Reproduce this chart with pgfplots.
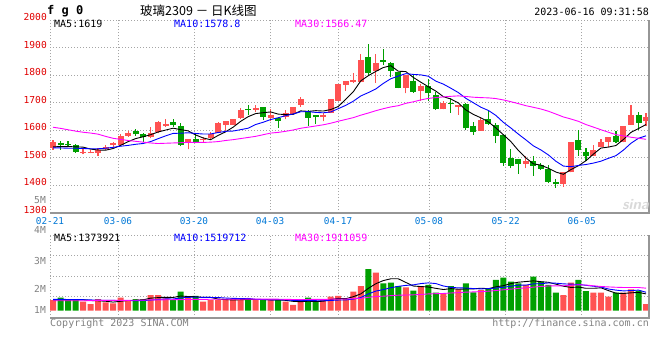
\documentclass[border=0pt]{standalone}
\usepackage{pgfplots}
\usepackage{pgfplotstable}
\pgfplotsset{compat=1.18}
\usepackage{fontspec}
\setmonofont{DejaVu Sans Mono}
\newfontfamily\cjk{Noto Sans CJK SC}
\definecolor{candleR}{RGB}{255,82,82}
\definecolor{candleG}{RGB}{0,160,0}
\definecolor{datecol}{RGB}{0,120,215}
\definecolor{pricecol}{RGB}{225,0,0}
\definecolor{txtgray}{RGB}{130,130,130}
\definecolor{gridgray}{RGB}{165,165,165}
\definecolor{bordergray}{RGB}{150,150,150}
\definecolor{maBlue}{RGB}{0,0,255}
\definecolor{maMag}{RGB}{255,0,255}
\newcommand\mono[1]{\ttfamily\fontsize{#1}{#1}\selectfont}

\pgfplotstableread{
i o h l c
0 1535 1565 1529 1559
4 1519 1531 1513 1523
5 1519 1529 1517 1523
6 1519 1535 1507 1529
7 1531 1547 1529 1541
8 1545 1558 1541 1553
9 1547 1587 1545 1581
10 1580 1598 1577 1589
13 1574 1611 1571 1591
14 1592 1633 1589 1630
15 1616 1641 1613 1624
18 1553 1570 1531 1569
20 1563 1577 1556 1569
21 1571 1593 1569 1587
22 1589 1629 1589 1626
23 1619 1634 1595 1634
24 1620 1641 1619 1641
25 1645 1680 1641 1674
27 1675 1692 1666 1682
29 1646 1679 1632 1655
31 1648 1674 1640 1664
32 1659 1686 1659 1686
33 1692 1719 1686 1713
36 1648 1662 1632 1657
37 1663 1714 1662 1713
38 1708 1768 1708 1768
39 1766 1777 1744 1777
40 1775 1807 1771 1783
41 1774 1876 1774 1855
43 1815 1876 1773 1845
47 1755 1801 1734 1801
49 1744 1768 1708 1761
52 1676 1708 1676 1700
54 1684 1690 1656 1690
57 1598 1647 1598 1638
63 1478 1507 1463 1489
68 1406 1449 1396 1449
69 1448 1557 1447 1557
72 1507 1548 1507 1529
73 1539 1570 1539 1558
74 1558 1575 1540 1575
76 1556 1616 1556 1616
77 1620 1690 1620 1656
79 1635 1661 1615 1647
}\upT

\pgfplotstableread{
i o h l c
1 1555 1561 1529 1545
2 1552 1561 1541 1545
3 1547 1552 1519 1523
11 1598 1605 1581 1585
12 1587 1589 1558 1574
16 1631 1641 1613 1619
17 1616 1626 1543 1548
19 1569 1586 1553 1556
26 1677 1690 1654 1672
28 1686 1686 1639 1650
30 1644 1650 1610 1634
34 1670 1674 1616 1646
35 1655 1655 1623 1647
42 1867 1913 1801 1807
44 1855 1895 1837 1848
45 1845 1848 1795 1816
46 1813 1813 1752 1755
48 1780 1801 1737 1739
50 1761 1785 1708 1734
51 1728 1740 1674 1676
53 1699 1716 1664 1696
55 1694 1698 1601 1607
56 1614 1629 1583 1595
58 1641 1674 1620 1623
59 1620 1626 1553 1580
60 1583 1583 1471 1483
61 1501 1531 1463 1471
62 1495 1495 1442 1477
64 1487 1505 1435 1471
65 1475 1481 1457 1460
66 1460 1475 1408 1414
67 1411 1423 1392 1407
70 1565 1601 1507 1529
71 1522 1535 1490 1505
75 1580 1597 1553 1557
78 1656 1666 1601 1628
}\dnT

\pgfplotstableread{
i v
0 0.99
4 0.83
5 0.61
6 1.08
7 0.77
8 0.68
9 1.21
10 0.99
13 1.46
14 1.46
15 1.15
18 1.21
20 0.83
21 0.99
22 0.99
23 0.99
24 1.15
25 0.99
27 0.99
29 0.99
31 0.83
32 0.52
33 0.83
36 0.99
37 1.30
38 1.37
39 1.08
40 1.77
41 2.31
43 3.57
47 2.19
49 2.31
52 1.62
54 2.00
57 1.93
63 2.41
68 1.46
69 2.62
72 1.68
73 1.68
74 1.30
76 1.68
77 2.00
79 0.61
}\volUp

\pgfplotstableread{
i v
1 1.21
2 0.99
3 1.08
11 1.08
12 1.08
16 0.99
17 1.78
19 1.37
26 1.08
28 0.99
30 0.99
34 1.21
35 0.83
42 3.90
44 2.56
45 2.62
46 2.31
48 1.87
50 2.41
51 1.68
53 2.31
55 2.56
56 1.71
58 2.09
59 2.88
60 3.10
61 2.72
62 2.56
64 3.19
65 2.72
66 2.41
67 1.68
70 2.88
71 1.84
75 1.68
78 1.87
}\volDn

\pgfplotstableread{
i a b c
0 1540 1536 1611
1 1541 1536 1607
2 1541 1535 1602
3 1540 1535 1597
4 1539 1534 1593
5 1531.8 1533 1590
6 1528.6 1533 1586
7 1527.8 1535 1578
8 1533.8 1538 1571
9 1545.4 1542.2 1567
10 1558.6 1545.2 1563
11 1569.8 1549.2 1560
12 1576.4 1552.1 1557
13 1584 1558.9 1554
14 1593.8 1569.6 1552
15 1600.8 1579.7 1553
16 1607.6 1588.7 1554
17 1602.4 1589.4 1555
18 1598 1591 1556
19 1583.2 1588.5 1556
20 1572.2 1586.5 1556
21 1565.8 1586.7 1557
22 1581.4 1591.9 1559
23 1594.4 1596.2 1563
24 1611.4 1597.3 1566
25 1632.4 1602.3 1570
26 1649.4 1607.6 1574
27 1660.6 1621 1578
28 1663.8 1629.1 1584
29 1666.6 1639 1589.9
30 1658.6 1645.5 1592.4
31 1657 1653.2 1596.4
32 1657.8 1659.2 1601.1
33 1670.4 1667.1 1607.4
34 1668.6 1667.6 1611.5
35 1671.2 1664.9 1615.6
36 1669.8 1663.4 1619.9
37 1675.2 1666.5 1625.6
38 1686.2 1678.3 1632.8
39 1712.4 1690.5 1639.3
40 1739.6 1705.4 1645.8
41 1779.2 1724.5 1654.8
42 1798 1736.6 1662.6
43 1813.4 1749.8 1671
44 1827.6 1770 1678.3
45 1834.2 1786.9 1684.7
46 1814.2 1796.7 1689.2
47 1813 1805.5 1697.7
48 1791.8 1802.6 1703.3
49 1774.4 1801 1710.2
50 1758 1796.1 1715.7
51 1742.2 1778.2 1718.6
52 1722 1767.5 1721.1
53 1713.4 1752.6 1723.2
54 1699.2 1736.8 1724.8
55 1673.8 1715.9 1722.6
56 1657.6 1699.9 1720
57 1645.2 1683.6 1718.5
58 1630.6 1672 1717.6
59 1608.6 1653.9 1715.1
60 1583.8 1628.8 1710.1
61 1559 1608.3 1703.7
62 1526.8 1586 1696.7
63 1500 1565.3 1689.2
64 1478.2 1543.4 1683.4
65 1473.6 1528.7 1677.2
66 1462.2 1510.6 1669.1
67 1448.4 1487.6 1658.9
68 1440.4 1470.2 1648.3
69 1457.6 1467.9 1640.9
70 1471.4 1472.5 1632.5
71 1489.6 1475.9 1620.8
72 1513.8 1481.1 1611.5
73 1535.6 1488 1602
74 1539.2 1498.4 1592.9
75 1544.8 1508.1 1584.2
76 1567 1528.3 1579.6
77 1592.4 1553.1 1574.8
78 1606.4 1571 1571.1
79 1620.8 1580 1567.3
}\maP

\pgfplotstableread{
i a b c
0 1.00 1.05 0.92
1 1.00 1.05 0.92
2 1.00 1.04 0.92
3 1.00 1.03 0.92
4 1.02 1.02 0.92
5 0.944 1.00 0.93
6 0.918 0.98 0.95
7 0.874 0.96 0.95
8 0.794 0.95 0.95
9 0.87 0.945 0.96
10 0.946 0.945 0.96
11 0.946 0.932 0.97
12 1.008 0.941 0.98
13 1.164 0.979 1.00
14 1.214 1.042 1.00
15 1.246 1.096 1.01
16 1.228 1.087 1.02
17 1.368 1.188 1.03
18 1.318 1.241 1.04
19 1.30 1.257 1.05
20 1.236 1.241 1.05
21 1.236 1.232 1.06
22 1.078 1.223 1.06
23 1.034 1.176 1.06
24 0.99 1.145 1.06
25 1.022 1.129 1.06
26 1.04 1.138 1.07
27 1.04 1.059 1.07
28 1.04 1.037 1.07
29 1.008 0.999 1.067
30 1.008 1.015 1.067
31 0.958 0.999 1.054
32 0.864 0.952 1.039
33 0.832 0.936 1.030
34 0.876 0.942 1.043
35 0.844 0.926 1.050
36 0.876 0.917 1.047
37 1.032 0.948 1.065
38 1.14 0.986 1.088
39 1.114 0.995 1.084
40 1.302 1.073 1.110
41 1.566 1.221 1.151
42 2.086 1.559 1.245
43 2.526 1.833 1.315
44 2.822 1.968 1.352
45 2.992 2.147 1.401
46 2.992 2.279 1.445
47 2.65 2.368 1.458
48 2.31 2.418 1.480
49 2.26 2.541 1.512
50 2.218 2.605 1.564
51 2.092 2.542 1.587
52 1.978 2.314 1.608
53 2.066 2.188 1.652
54 2.004 2.132 1.681
55 2.034 2.126 1.733
56 2.04 2.066 1.754
57 2.102 2.04 1.785
58 2.058 2.062 1.822
59 2.234 2.119 1.885
60 2.342 2.188 1.955
61 2.544 2.292 2.018
62 2.67 2.386 2.086
63 2.734 2.396 2.139
64 2.796 2.515 2.205
65 2.72 2.531 2.268
66 2.658 2.601 2.315
67 2.482 2.576 2.328
68 2.292 2.513 2.331
69 2.178 2.487 2.382
70 2.21 2.465 2.419
71 2.096 2.377 2.404
72 2.096 2.289 2.330
73 2.14 2.216 2.267
74 1.876 2.027 2.225
75 1.636 1.923 2.193
76 1.604 1.85 2.172
77 1.668 1.882 2.166
78 1.706 1.923 2.166
79 1.568 1.722 2.109
}\maV

\pgfplotsset{
  kbase/.style={
    scale only axis, width=599pt, xmin=-0.4, xmax=79.4,
    axis line style={draw=none}, tick style={draw=none},
    xtick={-0.4,8.66,18.78,28.91,37.97,50.09,60.31,70.44},
    grid=major,
    major grid style={draw=gridgray, dash pattern=on 1pt off 2pt, line width=0.9pt},
    /pgf/number format/assume math mode=true,
  },
  candle/.style={only marks, mark=*, mark size=0pt, mark options={draw=none, fill=none}, forget plot,
    error bars/.cd, y dir=plus, y explicit, error mark=none},
}

\begin{document}
\begin{tikzpicture}
\fill[white] (0pt,0pt) rectangle (660pt,360pt);

\begin{axis}[kbase, name=price,
  at={(50pt,147pt)}, anchor=south west, height=193pt,
  ymin=1300, ymax=2000,
  ytick={1300,1400,1500,1600,1700,1800,1900,2000},
  yticklabels={1300,1400,1500,1600,1700,1800,1900,2000},
  yticklabel style={font=\mono{9.6}, text=pricecol, inner sep=1pt, xshift=-2pt, yshift=3pt},
  xticklabels={02-21,03-06,03-20,04-03,04-17,05-08,05-22,06-05},
  xticklabel style={font=\mono{9.4}, text=datecol, inner sep=1pt, yshift=-3.5pt},
]
% wicks
\addplot[candle, error bar style={candleR, line width=1.1pt}]
  table[x=i, y=l, y error expr=\thisrow{h}-\thisrow{l}] {\upT};
\addplot[candle, error bar style={candleG, line width=1.1pt}]
  table[x=i, y=l, y error expr=\thisrow{h}-\thisrow{l}] {\dnT};
% bodies
\addplot[candle, error bar style={candleR, line width=6pt}]
  table[x=i, y=o, y error expr=\thisrow{c}-\thisrow{o}] {\upT};
\addplot[candle, error bar style={candleG, line width=6pt}]
  table[x=i, y=c, y error expr=\thisrow{o}-\thisrow{c}] {\dnT};
% moving averages
\addplot[black, line width=0.9pt] table[x=i, y=a] {\maP};
\addplot[maBlue, line width=0.9pt] table[x=i, y=b] {\maP};
\addplot[maMag, line width=0.9pt] table[x=i, y=c] {\maP};
\end{axis}

\begin{axis}[kbase, name=vol,
  at={(50pt,42pt)}, anchor=south west, height=83pt,
  ymin=-0.708, ymax=7.123,
  ytick={1.37,3.25,5.24}, yticklabels={},
  xticklabels={},
]
\addplot[ybar, bar width=6pt, bar shift=0pt, fill=candleR, draw=none] table[x=i, y=v] {\volUp};
\addplot[ybar, bar width=6pt, bar shift=0pt, fill=candleG, draw=none] table[x=i, y=v] {\volDn};
\addplot[black, line width=0.9pt] table[x=i, y=a] {\maV};
\addplot[maBlue, line width=0.9pt] table[x=i, y=b] {\maV};
\addplot[maMag, line width=0.9pt] table[x=i, y=c] {\maV};
\end{axis}

% borders
\draw[bordergray, line width=1.5pt] (price.south west) -- (price.south east) -- (price.north east);
\draw[bordergray, line width=1.5pt] (vol.south west) -- (vol.south east) -- (vol.north east);
\draw[gridgray, dash pattern=on 1pt off 2pt, line width=0.9pt] (vol.north west) -- (vol.north east);

% header
\node[anchor=west, inner sep=0pt] at (47pt,349pt) {\mono{12}\bfseries f g 0};
\node[anchor=west, inner sep=0pt] at (140pt,349pt) {\cjk\fontsize{12.5}{13}\selectfont 玻璃2309 － 日K线图};
\node[anchor=east, inner sep=0pt] at (649pt,348pt) {\mono{10}2023-06-16 09:31:58};

% MA labels price
\node[anchor=west, inner sep=0pt] at (54pt,336pt) {\mono{10}MA5:1619};
\node[anchor=west, inner sep=0pt, text=maBlue] at (174pt,336pt) {\mono{10}MA10:1578.8};
\node[anchor=west, inner sep=0pt, text=maMag] at (295pt,336pt) {\mono{10}MA30:1566.47};

% MA labels volume
\node[anchor=west, inner sep=0pt] at (54pt,122pt) {\mono{10}MA5:1373921};
\node[anchor=west, inner sep=0pt, text=maBlue] at (174pt,122pt) {\mono{10}MA10:1519712};
\node[anchor=west, inner sep=0pt, text=maMag] at (295pt,122pt) {\mono{10}MA30:1911059};

% volume scale labels
\node[anchor=east, inner sep=0pt, text=txtgray] at (46pt,160pt) {\mono{9.6}5M};
\node[anchor=east, inner sep=0pt, text=txtgray] at (46pt,130pt) {\mono{9.6}4M};
\node[anchor=east, inner sep=0pt, text=txtgray] at (46pt,99pt) {\mono{9.6}3M};
\node[anchor=east, inner sep=0pt, text=txtgray] at (46pt,71pt) {\mono{9.6}2M};
\node[anchor=east, inner sep=0pt, text=txtgray] at (46pt,50pt) {\mono{9.6}1M};

% footer
\node[anchor=west, inner sep=0pt, text=txtgray] at (50pt,36.5pt) {\mono{10}Copyright 2023 SINA.COM};
\node[anchor=east, inner sep=0pt, text=txtgray] at (649pt,36.5pt) {\mono{10}http://finance.sina.com.cn};

% watermark
\node[anchor=east, inner sep=0pt, text=black!15] at (649pt,155pt) {\sffamily\bfseries\itshape\fontsize{15}{15}\selectfont sina};
\end{tikzpicture}
\end{document}
